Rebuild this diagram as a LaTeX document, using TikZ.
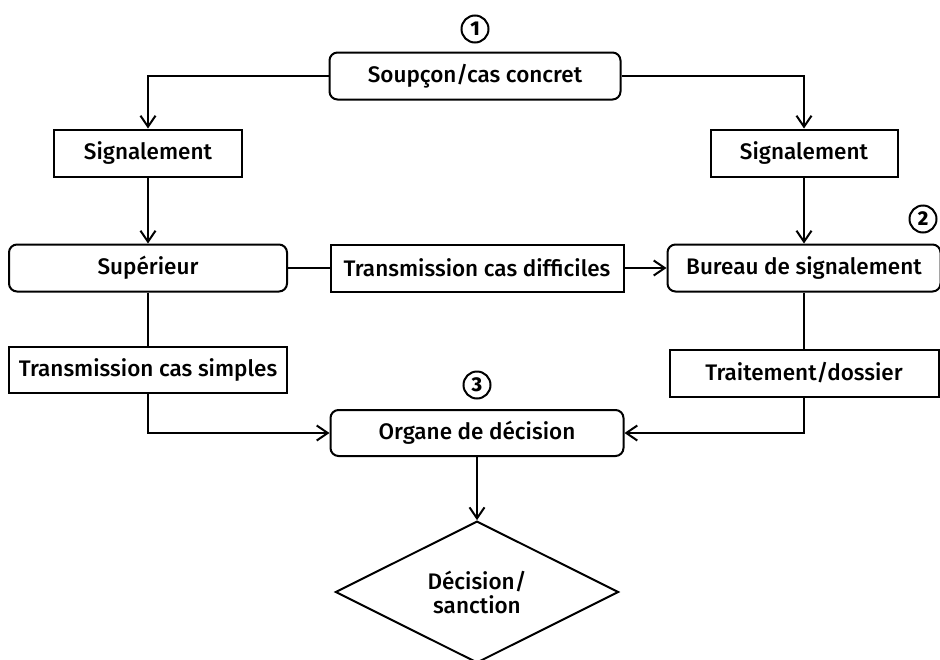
\documentclass[tikz,border=0pt]{standalone}
\usepackage{fontspec}
\setmainfont{Fira Sans}[UprightFont=* Medium]
\usetikzlibrary{arrows.meta,shapes.geometric}
\begin{document}
\begin{tikzpicture}[x=1pt,y=-1pt,
  every node/.style={font=\fontsize{22.5}{24}\selectfont, inner sep=0pt},
  box/.style={draw, line width=2pt, minimum height=47pt},
  rbox/.style={box, rounded corners=8pt},
  num/.style={draw, circle, line width=2pt, minimum size=27pt, font=\fontsize{20}{20}\selectfont\bfseries},
  arr/.style={line width=2pt, -{Straight Barb[length=11pt,width=15pt,line width=2pt]}},
  ln/.style={line width=2pt}]
\useasboundingbox (0,0) rectangle (940,659);
\node[num] (c1) at (475,29) {1};
\node[rbox, minimum width=291pt] (soup) at (475,76) {Soupçon/cas concret};
\node[box, minimum width=188pt] (sigL) at (148,153) {Signalement};
\node[box, minimum width=187pt] (sigR) at (804,153) {Signalement};
\node[rbox, minimum width=273pt] (bur) at (804,268) {Bureau de signalement};
\node[rbox, minimum width=278pt] (sup) at (148,268) {Supérieur};
\node[box, minimum width=293pt] (tdiff) at (477,268) {Transmission cas difficiles};
\node[num] (c2) at (923,219) {2};
\node[box, minimum width=278pt, minimum height=46pt] (tsimp) at (148,370) {Transmission cas simples};
\node[box, minimum width=269pt] (trait) at (804,373) {Traitement/dossier};
\node[num] (c3) at (477,385) {3};
\node[rbox, minimum width=293pt, minimum height=46pt] (org) at (477,433) {Organe de décision};
\node[draw, diamond, line width=2pt, minimum width=283pt, minimum height=134pt, align=center] (dec) at (477,592) {Décision/\\sanction};
\draw[arr] (soup.west) -| (sigL.north);
\draw[arr] (soup.east) -| (sigR.north);
\draw[arr] (sigL.south) -- (sup.north);
\draw[arr] (sigR.south) -- (bur.north);
\draw[ln] (sup.east) -- (tdiff.west);
\draw[arr] (tdiff.east) -- (bur.west);
\draw[ln] (sup.south) -- (tsimp.north);
\draw[ln] (bur.south) -- (trait.north);
\draw[arr] (tsimp.south) |- (org.west);
\draw[arr] (trait.south) |- (org.east);
\draw[arr] (org.south) -- (dec.north);
\end{tikzpicture}
\end{document}
